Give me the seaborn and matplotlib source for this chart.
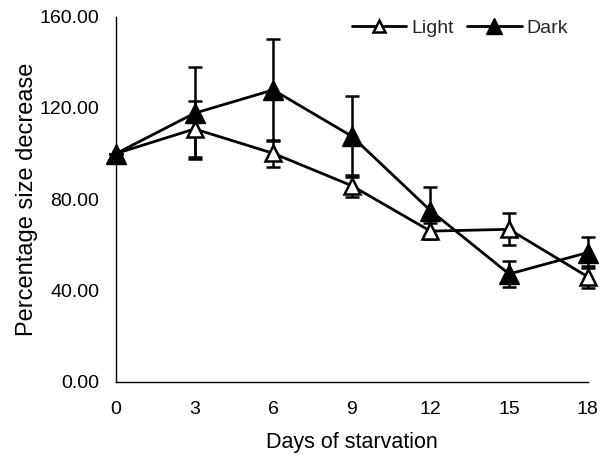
import matplotlib
matplotlib.use("Agg")
import matplotlib.pyplot as plt
import seaborn as sns
import pandas as pd
import numpy as np

days = [0, 3, 6, 9, 12, 15, 18]
light_mean = [100.0, 110.8, 100.1, 85.9, 66.0, 66.8, 46.0]
light_err = [0.0, 12.3, 6.0, 4.8, 3.6, 7.0, 4.9]
dark_mean = [100.0, 117.7, 127.9, 107.6, 75.0, 47.2, 56.6]
dark_err = [0.0, 20.2, 22.4, 17.7, 10.5, 5.6, 6.7]
yticks = [0, 40, 80, 120, 160]
xticks = [0, 3, 6, 9, 12, 15, 18]

sns.set_theme(style="white")
plt.rcParams['font.family'] = ['Liberation Sans', 'DejaVu Sans']

df = pd.DataFrame({
    "day": days * 2,
    "value": light_mean + dark_mean,
    "group": ["Light"] * len(days) + ["Dark"] * len(days),
})

fig = plt.figure(figsize=(6.03, 4.61), dpi=100)
ax = fig.add_axes([116 / 603, 1 - 381.7 / 461, (587.7 - 116) / 603, (381.7 - 16.7) / 461])

# error bars
ax.errorbar(days, light_mean, yerr=light_err, fmt='none', ecolor='black',
            elinewidth=1.8, capsize=5, capthick=1.8, clip_on=False, zorder=2)
ax.errorbar(days, dark_mean, yerr=dark_err, fmt='none', ecolor='black',
            elinewidth=1.8, capsize=5, capthick=1.8, clip_on=False, zorder=2)

sns.lineplot(data=df[df.group == "Light"], x="day", y="value", ax=ax,
             color='black', linewidth=2.0, marker='^', markersize=12,
             markerfacecolor='white', markeredgecolor='black', markeredgewidth=1.8,
             label="Light", clip_on=False, zorder=3)
sns.lineplot(data=df[df.group == "Dark"], x="day", y="value", ax=ax,
             color='black', linewidth=2.0, marker='^', markersize=15,
             markerfacecolor='black', markeredgecolor='black', markeredgewidth=1.0,
             label="Dark", clip_on=False, zorder=4)

ax.set_xlim(0, 18)
ax.set_ylim(0, 160)
ax.set_xticks(xticks)
ax.set_yticks(yticks)
ax.set_yticklabels([f"{v:.2f}" for v in yticks])
ax.tick_params(axis='both', direction='out', length=4.5, width=1, color='black',
               labelsize=14, labelcolor='black')
ax.tick_params(axis='y', pad=7.5)
ax.tick_params(axis='x', pad=9.5)
for s in ['top', 'right']:
    ax.spines[s].set_visible(False)
for s in ['left', 'bottom']:
    ax.spines[s].set_color('black')
    ax.spines[s].set_linewidth(1.0)

ax.set_xlabel("Days of starvation", fontsize=15.5, color='black', labelpad=10)
ax.set_ylabel("Percentage size decrease", fontsize=17, color='black', labelpad=1.5)

leg = ax.legend(loc='center right', bbox_to_anchor=(568 / 603, 1 - 28 / 461),
                bbox_transform=fig.transFigure, ncol=2, frameon=False,
                fontsize=14, handlelength=2.8, handletextpad=0.25,
                columnspacing=0.7, borderpad=0, borderaxespad=0, markerscale=0.75)

fig.savefig("out.png", dpi=100)
